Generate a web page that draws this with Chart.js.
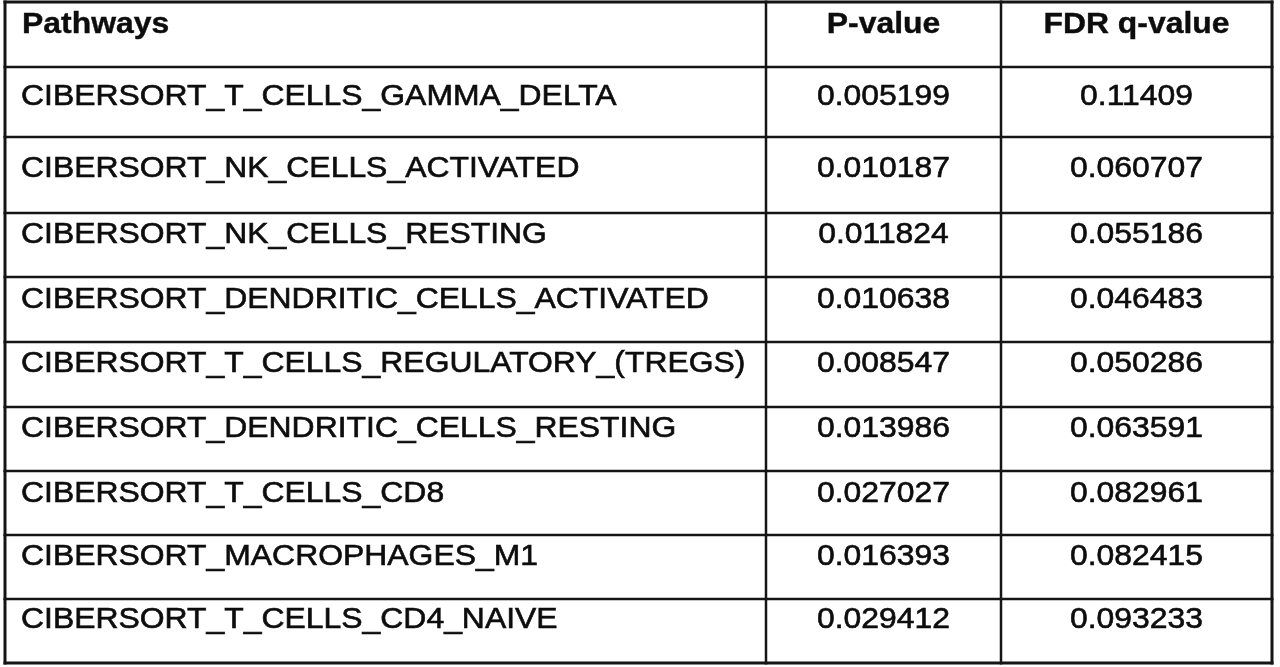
<!DOCTYPE html>
<html>
<head>
<meta charset="utf-8">
<script src="https://cdn.jsdelivr.net/npm/chart.js@4"></script>
<style>
  html, body { margin: 0; padding: 0; background: #fff; }
  canvas { display: block; }
</style>
</head>
<body>
<canvas id="myChart" width="1280" height="667"></canvas>
<script>
const columns = ['Pathways', 'P-value', 'FDR q-value'];
const pathways = [
  'CIBERSORT_T_CELLS_GAMMA_DELTA',
  'CIBERSORT_NK_CELLS_ACTIVATED',
  'CIBERSORT_NK_CELLS_RESTING',
  'CIBERSORT_DENDRITIC_CELLS_ACTIVATED',
  'CIBERSORT_T_CELLS_REGULATORY_(TREGS)',
  'CIBERSORT_DENDRITIC_CELLS_RESTING',
  'CIBERSORT_T_CELLS_CD8',
  'CIBERSORT_MACROPHAGES_M1',
  'CIBERSORT_T_CELLS_CD4_NAIVE'
];
const pValues = [0.005199, 0.010187, 0.011824, 0.010638, 0.008547, 0.013986, 0.027027, 0.016393, 0.029412];
const fdrValues = [0.11409, 0.060707, 0.055186, 0.046483, 0.050286, 0.063591, 0.082961, 0.082415, 0.093233];

// table geometry (scale units = pixels)
const colEdges = [0, 761, 996, 1267];
const rowEdges = [0, 65, 135, 211, 275, 340, 405, 469, 533, 597, 661];
const baseOff = [31, 38, 40, 30, 31, 30, 30, 31, 30, 29];

const colMid = c => (colEdges[c] + colEdges[c + 1]) / 2;
const rowBase = r => rowEdges[r] + baseOff[r];

function drawText(ctx, text, x, y, align, bold) {
  ctx.save();
  ctx.font = (bold ? 'bold ' : '') + '29px "Liberation Sans", Arial, sans-serif';
  ctx.fillStyle = '#0d0d0d';
  ctx.strokeStyle = '#0d0d0d';
  ctx.lineWidth = bold ? 0.4 : 0.6;
  ctx.textBaseline = 'alphabetic';
  ctx.translate(x, y);
  ctx.scale(1.1, 1);
  ctx.textAlign = align;
  ctx.fillText(text, 0, 0);
  ctx.strokeText(text, 0, 0);
  ctx.restore();
}

const tablePlugin = {
  id: 'table',
  afterDatasetsDraw(chart) {
    const ctx = chart.ctx;
    const xs = chart.scales.x, ys = chart.scales.y;
    const a = chart.chartArea;

    // grid lines
    ctx.save();
    ctx.strokeStyle = '#151515';
    rowEdges.forEach((r, i) => {
      const y = ys.getPixelForValue(r);
      ctx.lineWidth = (i === 0 || i === rowEdges.length - 1) ? 3 : 2.5;
      ctx.beginPath(); ctx.moveTo(a.left - 1.5, y); ctx.lineTo(a.right + 1.5, y); ctx.stroke();
    });
    colEdges.forEach((c, i) => {
      const x = xs.getPixelForValue(c);
      ctx.lineWidth = (i === 0 || i === colEdges.length - 1) ? 3 : 2.5;
      ctx.beginPath(); ctx.moveTo(x, a.top - 1.5); ctx.lineTo(x, a.bottom + 1.5); ctx.stroke();
    });
    ctx.restore();

    // header row
    const hy = ys.getPixelForValue(rowBase(0));
    drawText(ctx, columns[0], xs.getPixelForValue(colEdges[0] + 17), hy, 'left', true);
    drawText(ctx, columns[1], xs.getPixelForValue(colMid(1)), hy, 'center', true);
    drawText(ctx, columns[2], xs.getPixelForValue(colMid(2)), hy, 'center', true);

    // pathway names
    pathways.forEach((p, i) => {
      drawText(ctx, p, xs.getPixelForValue(colEdges[0] + 16), ys.getPixelForValue(rowBase(i + 1)), 'left', false);
    });

    // value cells from dataset elements
    chart.data.datasets.forEach((ds, di) => {
      chart.getDatasetMeta(di).data.forEach((pt, i) => {
        drawText(ctx, String(ds.values[i]), pt.x, pt.y, 'center', false);
      });
    });
  }
};

new Chart(document.getElementById('myChart'), {
  type: 'scatter',
  data: {
    datasets: [{
      label: columns[1],
      values: pValues,
      data: pValues.map((v, i) => ({ x: colMid(1), y: rowBase(i + 1) })),
      pointRadius: 0
    }, {
      label: columns[2],
      values: fdrValues,
      data: fdrValues.map((v, i) => ({ x: colMid(2), y: rowBase(i + 1) })),
      pointRadius: 0
    }]
  },
  options: {
    responsive: false,
    animation: false,
    devicePixelRatio: 1,
    layout: { padding: { left: 5, top: 2, right: 8, bottom: 4 } },
    plugins: { legend: { display: false }, tooltip: { enabled: false } },
    scales: {
      x: { type: 'linear', display: false, min: colEdges[0], max: colEdges[3] },
      y: { type: 'linear', display: false, reverse: true, min: rowEdges[0], max: rowEdges[10] }
    }
  },
  plugins: [tablePlugin]
});
</script>
</body>
</html>
